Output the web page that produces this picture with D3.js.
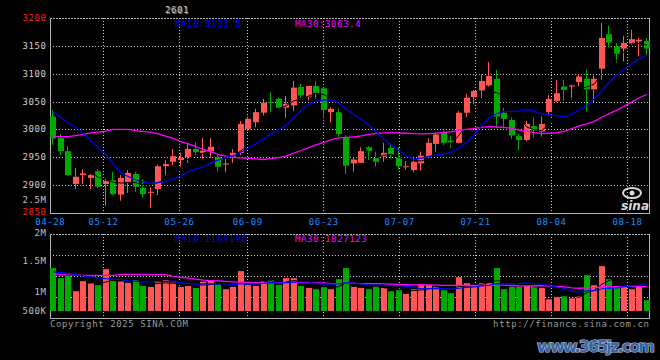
<!DOCTYPE html>
<html><head><meta charset="utf-8">
<script src="https://cdn.jsdelivr.net/npm/d3@7"></script>
<style>
body{margin:0;background:#000;}
svg{display:block;}
text{font-family:"DejaVu Sans Mono",monospace;font-size:9px;letter-spacing:0.6px;}
</style>
</head><body><svg id="c" width="660" height="360"></svg>
<script>
// ---------- data ----------
const dates = ["04-28","04-29","04-30","05-06","05-07","05-08","05-09","05-12","05-13","05-14","05-15","05-16","05-19","05-20","05-21","05-22","05-23","05-26","05-27","05-28","05-29","05-30","06-03","06-04","06-05","06-06","06-09","06-10","06-11","06-12","06-13","06-16","06-17","06-18","06-19","06-20","06-23","06-24","06-25","06-26","06-27","06-30","07-01","07-02","07-03","07-04","07-07","07-08","07-09","07-10","07-11","07-14","07-15","07-16","07-17","07-18","07-21","07-22","07-23","07-24","07-25","07-28","07-29","07-30","07-31","08-01","08-04","08-05","08-06","08-07","08-08","08-11","08-12","08-13","08-14","08-15","08-18","08-19","08-20","08-21"];
const open  = [3023,2985,2961,2902,2918,2913,2925,2902,2909,2883,2905,2920,2895,2887,2893,2934,2942,2945,2950,2965,2958,2959,2950,2937,2951,2958,3001,3013,3030,3049,3055,3039,3043,3076,3059,3078,3074,3031,3031,2986,2939,2940,2968,2949,2951,2967,2950,2933,2927,2939,2950,2974,2995,2980,2976,3030,3058,3070,3079,3091,3030,3017,2988,2981,3006,2996,3031,3051,3077,3077,3085,3091,3072,3109,3171,3149,3145,3154,3158,3159];
const high  = [3035,2992,2970,2931,2929,2920,2929,2911,2924,2918,2927,2924,2911,2896,2937,2945,2965,2958,2974,2977,2985,2985,2954,2947,2965,3015,3023,3037,3055,3066,3057,3060,3087,3082,3078,3087,3075,3040,3037,2989,2950,2968,2970,2960,2976,2975,2968,2943,2948,2960,2984,2995,2998,2988,3033,3064,3071,3099,3121,3107,3039,3022,2992,3015,3021,3023,3062,3089,3089,3080,3099,3107,3099,3191,3186,3155,3168,3179,3164,3164];
const low   = [2972,2954,2916,2893,2902,2893,2895,2863,2882,2872,2886,2888,2878,2860,2882,2918,2936,2933,2940,2952,2947,2949,2925,2923,2940,2954,2997,3004,3025,3030,3036,3021,3033,3056,3052,3055,3019,3012,2987,2919,2924,2940,2945,2933,2942,2948,2928,2928,2923,2926,2948,2960,2972,2967,2975,3022,3045,3056,3077,3002,3002,2983,2962,2979,2985,2987,3028,3049,3051,3053,3077,3032,3048,3089,3147,3120,3122,3152,3131,3134];
const close = [2984,2961,2918,2915,2921,2918,2897,2907,2884,2913,2922,2897,2884,2888,2934,2938,2952,2949,2965,2959,2962,2969,2933,2939,2958,3010,3019,3031,3048,3048,3039,3046,3075,3061,3078,3065,3035,3037,2992,2935,2946,2961,2961,2942,2958,2954,2934,2934,2942,2953,2976,2991,2976,2977,3030,3057,3069,3087,3096,3023,3019,2989,2981,3010,2998,3010,3055,3065,3071,3079,3095,3072,3091,3164,3156,3136,3155,3162,3161,3145];
const volume = [1442600,1278700,1316400,1065600,1229500,1191800,1163900,1426200,1234400,1224600,
 1201600,1245900,1152500,1136100,1229500,1245900,1208200,1136100,1152500,1119700,
 1218000,1245900,1180300,1098400,1136100,1393400,1163900,1152500,1229500,1245900,
 1168900,1278700,1278700,1152500,1119700,1098400,1131100,1098400,1262300,1442600,
 1136100,1119700,1098400,1136100,1119700,1065600,1082000,1021300,1098400,1163900,
 1163900,1136100,1082000,1032800,1295100,1196700,1163900,1196700,1196700,1442600,
 1098400,1136100,1136100,1152500,1152500,1119700,934400,967200,983600,950800,
 983600,1327900,1163900,1475400,1262300,1147500,1147500,1098400,1147500,918000];
// moving averages at the start of the window (history before 04-28)
const ma10PriceStart = [3032,3022,3012,3004,2993,2980,2968,2955,2938];
const ma30PriceStart = [2987,2987,2987,2989,2991,2994,2995,2997,3000,3000,3000,2998,2996,2995,2992,2988,2984,2978,2974,2969,2964,2960,2955,2952,2950,2949,2948,2947,2946];
const ma10VolStart = [1382000,1368900,1355700,1336100,1316400,1303300,1283600,1270500,1262300];
const ma30VolStart = [1355700,1332800,1332800,1332800,1323000,1323000,1323000,1323000,1323000,1339300,1339300,1339300,1339300,1336100,1336100,1336100,1306600,1291800,1278700,1262300,1245900,1239300,1232800,1226200,1218000,1213100,1209800,1204900,1201600];
const dateTicks = ["04-28","05-12","05-26","06-09","06-23","07-07","07-21","08-04","08-18"];
const priceTicks = [3200,3150,3100,3050,3000,2950,2900,2850];
const volTicks = [2500000,2000000,1500000,1000000,500000];
const volTickLabels = ["2.5M","2M","1.5M","1M","500K"];
const title = "2601";
const maPriceLabels = ["MA10:3133.5","MA30:3063.4"];
const maVolLabels = ["MA10:1109190","MA30:1027123"];

// ---------- helpers ----------
function movingAvg(arr, n, start){
  return arr.map((_, i) => i >= n-1 ? d3.mean(arr.slice(i-n+1, i+1)) : (start ? start[i] : null));
}
const N = dates.length;
const RED = "#ff5555", GREEN = "#00aa00", BLUE = "#0000ff", MAG = "#ff00ff";
const GRID = "#c8c8c8", BORDER = "#b4b4b4";

const svg = d3.select("#c");
svg.append("rect").attr("width",660).attr("height",360).attr("fill","#000");

const x = d3.scaleBand().domain(d3.range(N)).range([50,650]).paddingInner(0.2).paddingOuter(0);
const xg = d3.scaleLinear().domain([0, N-1]).range([50,650]);
const yP = d3.scaleLinear().domain([2850,3200]).range([213,18]);
const yV = d3.scaleLinear().domain([742600,2000000]).range([311,234]);
const px = v => Math.round(v) + 0.5;

const tickIdx = dateTicks.map(d => dates.indexOf(d));

// ---------- price panel grid ----------
const gP = svg.append("g");
gP.selectAll("line.h").data(priceTicks.slice(1,-1)).join("line")
  .attr("x1",50).attr("x2",649).attr("y1",d=>px(yP(d))).attr("y2",d=>px(yP(d)))
  .attr("stroke",GRID).attr("stroke-dasharray","1,2");
gP.selectAll("line.v").data(tickIdx.slice(1)).join("line")
  .attr("x1",d=>px(xg(d))).attr("x2",d=>px(xg(d))).attr("y1",18).attr("y2",213)
  .attr("stroke",GRID).attr("stroke-dasharray","1,2");
gP.append("line").attr("x1",50).attr("x2",650).attr("y1",px(yP(3200))).attr("y2",px(yP(3200))).attr("stroke",BORDER).attr("stroke-dasharray","2,1");
gP.append("line").attr("x1",50).attr("x2",650).attr("y1",px(yP(2850))).attr("y2",px(yP(2850))).attr("stroke",BORDER);
gP.append("line").attr("x1",50.5).attr("x2",50.5).attr("y1",18).attr("y2",214).attr("stroke",BORDER);
gP.append("line").attr("x1",649.5).attr("x2",649.5).attr("y1",18).attr("y2",214).attr("stroke",BORDER);

// ---------- volume panel grid ----------
const gV = svg.append("g");
const vGridY = d3.range(1,4).map(k => 234 + k*(318-234)/4);
gV.selectAll("line.h").data(vGridY).join("line")
  .attr("x1",50).attr("x2",649).attr("y1",d=>px(d)).attr("y2",d=>px(d))
  .attr("stroke",GRID).attr("stroke-dasharray","1,2");
gV.selectAll("line.v").data(tickIdx.slice(1)).join("line")
  .attr("x1",d=>px(xg(d))).attr("x2",d=>px(xg(d))).attr("y1",234).attr("y2",318)
  .attr("stroke",GRID).attr("stroke-dasharray","1,2");
gV.append("line").attr("x1",50).attr("x2",650).attr("y1",234.5).attr("y2",234.5).attr("stroke",BORDER).attr("stroke-dasharray","2,1");
gV.append("line").attr("x1",50).attr("x2",650).attr("y1",318.5).attr("y2",318.5).attr("stroke",BORDER);
gV.append("line").attr("x1",50.5).attr("x2",50.5).attr("y1",234).attr("y2",319).attr("stroke",BORDER);
gV.append("line").attr("x1",649.5).attr("x2",649.5).attr("y1",234).attr("y2",319).attr("stroke",BORDER);

// ---------- sina logo (watermark) ----------
const logo = svg.append("g").attr("fill","#d8d8d8");
logo.append("ellipse").attr("cx",632).attr("cy",193).attr("rx",9).attr("ry",5).attr("fill","none").attr("stroke","#d8d8d8").attr("stroke-width",2);
logo.append("circle").attr("cx",632).attr("cy",193).attr("r",2.5);
logo.append("text").attr("x",649).attr("y",210).attr("text-anchor","end")
  .style("font-family","DejaVu Sans").style("font-weight","bold").style("font-style","italic").style("font-size","12px").style("letter-spacing","0")
  .text("sina");

// ---------- candles ----------
const idx = d3.range(N);
const up = i => close[i] >= open[i];
const gc = svg.append("g");
gc.selectAll("rect.w").data(idx).join("rect")
  .attr("x", i => Math.round(x(i)) + 2).attr("width",1)
  .attr("y", i => yP(high[i])).attr("height", i => Math.max(1, yP(low[i]) - yP(high[i])))
  .attr("fill", i => up(i) ? RED : GREEN);
gc.selectAll("rect.b").data(idx).join("rect")
  .attr("x", i => Math.round(x(i))).attr("width", 6)
  .attr("y", i => yP(Math.max(open[i], close[i])))
  .attr("height", i => Math.max(1, Math.abs(yP(open[i]) - yP(close[i]))))
  .attr("fill", i => up(i) ? RED : GREEN);

// ---------- price MAs ----------
const cx = i => x(i) + x.bandwidth()/2;
const ma5P = movingAvg(close,5,null), ma10P = movingAvg(close,10,ma10PriceStart), ma30P = movingAvg(close,30,ma30PriceStart);
const lineP = d3.line().defined(d => d != null).x((d,i) => cx(i)).y(d => yP(d));
svg.append("path").attr("d", lineP(ma5P)).attr("fill","none").attr("stroke","#000").attr("stroke-width",1);
svg.append("path").attr("d", lineP(ma30P)).attr("fill","none").attr("stroke",MAG).attr("stroke-width",1.3);
svg.append("path").attr("d", lineP(ma10P)).attr("fill","none").attr("stroke",BLUE).attr("stroke-width",1.2);

// ---------- volume bars ----------
svg.append("g").selectAll("rect").data(idx).join("rect")
  .attr("x", i => Math.round(x(i))).attr("width",6)
  .attr("y", i => yV(volume[i])).attr("height", i => yV.range()[0] - yV(volume[i]))
  .attr("fill", i => up(i) ? RED : GREEN);
const ma5V = movingAvg(volume,5,null), ma10V = movingAvg(volume,10,ma10VolStart), ma30V = movingAvg(volume,30,ma30VolStart);
const lineV = d3.line().defined(d => d != null).x((d,i) => cx(i)).y(d => yV(d));
svg.append("path").attr("d", lineV(ma5V)).attr("fill","none").attr("stroke","#000").attr("stroke-width",1);
svg.append("path").attr("d", lineV(ma30V)).attr("fill","none").attr("stroke",MAG).attr("stroke-width",1.3);
svg.append("path").attr("d", lineV(ma10V)).attr("fill","none").attr("stroke",BLUE).attr("stroke-width",1.2);

// ---------- texts ----------
svg.append("g").selectAll("text").data(priceTicks).join("text")
  .attr("x",46.6).attr("y", (d,i) => i===priceTicks.length-1 ? yP(d) + 2 : yP(d) + 3)
  .attr("text-anchor","end")
  .attr("fill", (d,i) => (i===0 || i===priceTicks.length-1) ? "#ff2020" : "#d0d0d0")
  .text(d => d);
svg.append("g").selectAll("text").data(volTicks).join("text")
  .attr("x",46.6).attr("y", (d,i) => i===1 ? 235.6 : Math.min(yV(d) - 0.2, 314.3)).attr("text-anchor","end")
  .attr("fill","#c0c0c0").text((d,i) => volTickLabels[i]);
svg.append("g").selectAll("text").data(tickIdx).join("text")
  .attr("x", d => xg(d) + 0.3).attr("y",225.4).attr("text-anchor","middle")
  .attr("fill","#1a8cff").text((d,i) => dateTicks[i]);
svg.append("text").attr("x",175).attr("y",27.4).attr("fill",BLUE).text(maPriceLabels[0]);
svg.append("text").attr("x",295).attr("y",27.4).attr("fill",MAG).text(maPriceLabels[1]);
svg.append("text").attr("x",175).attr("y",242).attr("fill","#0000e0").text(maVolLabels[0]);
svg.append("text").attr("x",295).attr("y",242).attr("fill",MAG).text(maVolLabels[1]);
svg.append("text").attr("x",166).attr("y",14).attr("fill","#666").text(title);
svg.append("text").attr("x",165).attr("y",13).attr("fill","#d0d0d0").text(title);
svg.append("text").attr("x",50).attr("y",326.6).attr("fill","#9a9a9a").text("Copyright 2025 SINA.COM");
svg.append("text").attr("x",649.6).attr("y",326.6).attr("text-anchor","end").attr("fill","#9a9a9a").text("http://finance.sina.com.cn");
svg.append("text").attr("x",537).attr("y",352).attr("textLength",118)
  .style("font-family","DejaVu Sans").style("font-weight","bold").style("font-size","16px").style("letter-spacing","0")
  .attr("fill","#3d64a0").attr("stroke","#b8c8e0").attr("stroke-width",1.2).attr("paint-order","stroke")
  .text("www.365jz.com");
</script>
</body></html>
